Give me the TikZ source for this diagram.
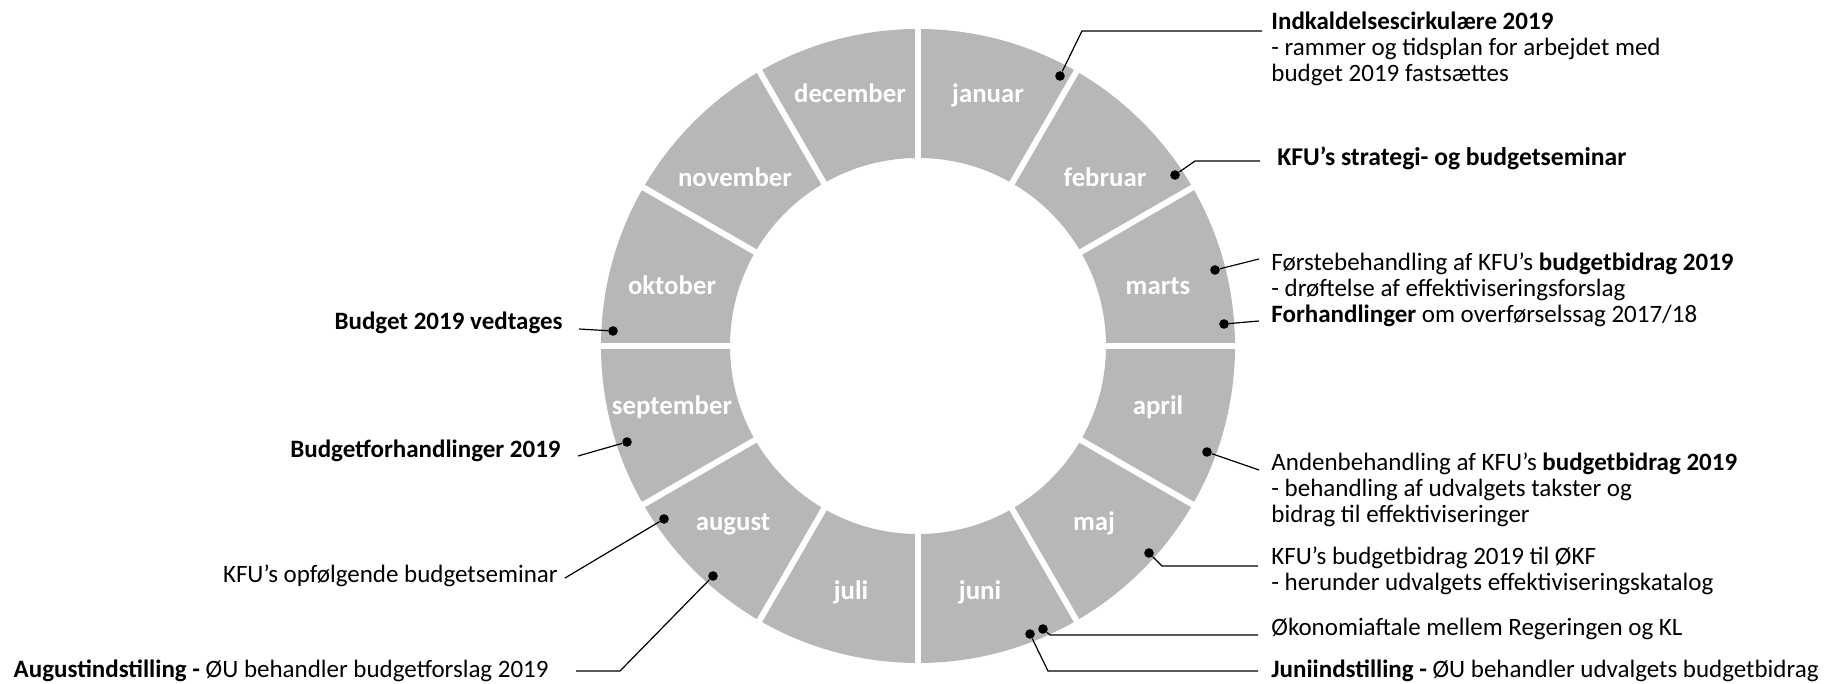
\documentclass[tikz,border=0pt]{standalone}
\usepackage{fontspec}
\setmainfont{Carlito}
\usetikzlibrary{calc}
\definecolor{ringgray}{HTML}{B7B7B7}
\begin{document}
\begin{tikzpicture}[x=0.5pt,y=-0.5pt,
  month/.style={text=white,font=\bfseries\fontsize{13.4}{16}\selectfont,anchor=base,inner sep=0},
  lbl/.style={font=\fontsize{12.5}{13}\selectfont,inner sep=0,align=left},
  dotn/.style={circle,fill=black,inner sep=0,minimum size=4.8pt},
  conn/.style={line width=0.6pt,black},
  gapline/.style={white,line width=3pt}]
\useasboundingbox (0,0) rectangle (1832,684);
\coordinate (c) at (918,346);
% ring
\fill[ringgray,even odd rule] (c) circle[radius=158.5pt] (c) circle[radius=94pt];
\foreach \a in {0,30,...,330} \draw[gapline] ($(c)+(\a:92pt)$) -- ($(c)+(\a:161pt)$);
% month labels
\node[month] (mdec) at (850,103) {december};
\node[month] (mjan) at (988,103) {januar};
\node[month] (mnov) at (735,187) {november};
\node[month] (mfeb) at (1105,187) {februar};
\node[month] (mokt) at (672,295) {oktober};
\node[month] (mmar) at (1158,295) {marts};
\node[month] (msep) at (672,415) {september};
\node[month] (mapr) at (1158,415) {april};
\node[month] (maug) at (733,530) {august};
\node[month] (mmaj) at (1094,530) {maj};
\node[month] (mjul) at (851,599) {juli};
\node[month] (mjun) at (980,599) {juni};
% right texts
\node[lbl,anchor=north west] (tA) at (1271,12) {\textbf{Indkaldelsescirkulære 2019}\\- rammer og tidsplan for arbejdet med\\budget 2019 fastsættes};
\node[lbl,anchor=base west,font=\fontsize{12.8}{13}\selectfont] (tB) at (1277,166) {\textbf{KFU’s strategi- og budgetseminar}};
\node[lbl,anchor=north west] (tC) at (1271,252) {Førstebehandling af KFU’s \textbf{budgetbidrag 2019}\\- drøftelse af effektiviseringsforslag};
\node[lbl,anchor=base west] (tD) at (1271,322) {\textbf{Forhandlinger} om overførselssag 2017/18};
\node[lbl,anchor=north west] (tE) at (1271,452) {Andenbehandling af KFU’s \textbf{budgetbidrag 2019}\\- behandling af udvalgets takster og\\bidrag til effektiviseringer};
\node[lbl,anchor=north west] (tF) at (1271,546) {KFU’s budgetbidrag 2019 til ØKF\\- herunder udvalgets effektiviseringskatalog};
\node[lbl,anchor=base west] (tG) at (1271,635) {Økonomiaftale mellem Regeringen og KL};
\node[lbl,anchor=base west] (tH) at (1271,677) {\textbf{Juniindstilling -} ØU behandler udvalgets budgetbidrag};
% left texts
\node[lbl,anchor=base east] (tI) at (563,329) {\textbf{Budget 2019 vedtages}};
\node[lbl,anchor=base east] (tJ) at (561,457) {\textbf{Budgetforhandlinger 2019}};
\node[lbl,anchor=base east] (tK) at (558,582) {KFU’s opfølgende budgetseminar};
\node[lbl,anchor=base east] (tL) at (549,677) {\textbf{Augustindstilling -} ØU behandler budgetforslag 2019};
% dots
\node[dotn] (dA) at (1060,76) {};
\node[dotn] (dB) at (1175,175) {};
\node[dotn] (dC) at (1215,270) {};
\node[dotn] (dD) at (1224,324) {};
\node[dotn] (dE) at (1207,452) {};
\node[dotn] (dF) at (1149,553) {};
\node[dotn] (dG) at (1043,629) {};
\node[dotn] (dH) at (1030,634) {};
\node[dotn] (dI) at (613,331) {};
\node[dotn] (dJ) at (627,442) {};
\node[dotn] (dK) at (664,519) {};
\node[dotn] (dL) at (713,576) {};
% connector points
\coordinate (bA) at (1082,31); \coordinate (eA) at (1262,31);
\coordinate (bB) at (1195,161); \coordinate (eB) at (1260,161);
\coordinate (eC) at (1259,259);
\coordinate (eD) at (1259,321);
\coordinate (eE) at (1259,470);
\coordinate (bF) at (1162,566); \coordinate (eF) at (1258,566);
\coordinate (bG) at (1050,635); \coordinate (eG) at (1258,635);
\coordinate (bH) at (1048,671); \coordinate (eH) at (1258,671);
\coordinate (eI) at (579,329);
\coordinate (eJ) at (578,456);
\coordinate (eK) at (565,578);
\coordinate (bL) at (620,671); \coordinate (eL) at (576,671);
% connectors
\draw[conn] (dA) -- (bA) -- (eA);
\draw[conn] (dB) -- (bB) -- (eB);
\draw[conn] (dC) -- (eC);
\draw[conn] (dD) -- (eD);
\draw[conn] (dE) -- (eE);
\draw[conn] (dF) -- (bF) -- (eF);
\draw[conn] (dG) -- (bG) -- (eG);
\draw[conn] (dH) -- (bH) -- (eH);
\draw[conn] (dI) -- (eI);
\draw[conn] (dJ) -- (eJ);
\draw[conn] (dK) -- (eK);
\draw[conn] (dL) -- (bL) -- (eL);
\end{tikzpicture}
\end{document}
